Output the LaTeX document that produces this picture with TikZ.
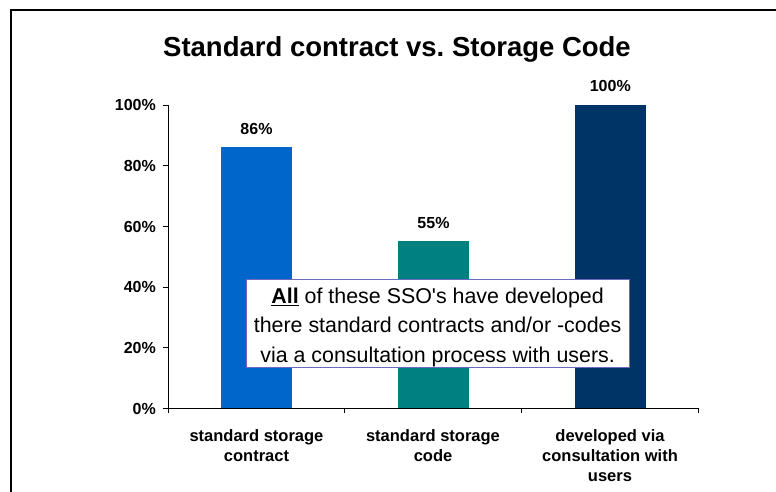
\documentclass[tikz,border=0pt]{standalone}
\usepackage{fontspec}
\setmainfont{Liberation Sans}
\newfontfamily\boxfont{Liberation Sans}
\usetikzlibrary{calc}
\definecolor{barA}{HTML}{0066CC}
\definecolor{barB}{HTML}{008080}
\definecolor{barC}{HTML}{003366}
\definecolor{boxline}{HTML}{6A6AC0}
\frenchspacing
\begin{document}
\begin{tikzpicture}[x=1pt,y=-1pt,
  bar/.style={draw=none, inner sep=0pt, minimum width=71pt, anchor=south},
  val/.style={font=\fontsize{16}{18}\selectfont\bfseries, anchor=base, inner sep=0pt},
  ylab/.style={font=\fontsize{16}{18}\selectfont\bfseries, anchor=base east, inner sep=0pt},
  cat/.style={font=\fontsize{16.5}{20}\selectfont\bfseries, align=center, anchor=north, inner sep=0pt},
  axisline/.style={line width=0.8pt, black},
  frameline/.style={line width=2.4pt, black}
]
\useasboundingbox (0,0) rectangle (776,491);
% frame
\coordinate (fb) at (11,495);
\coordinate (fc) at (11,10);
\coordinate (fr) at (780,10);
\draw[frameline] (fb) -- (fc) -- (fr);
% title
\node[font=\fontsize{27.5}{30}\selectfont\bfseries, anchor=base, inner sep=0pt] (title) at (397,56.7) {Standard contract vs. Storage Code};
% axes
\coordinate (ytop) at (168,105);
\coordinate (o) at (168,408.3);
\coordinate (xend) at (698,408.3);
\draw[axisline] (ytop) -- (o) -- (xend);
% y ticks and labels
\foreach \v/\lab in {0/0\%,20/20\%,40/40\%,60/60\%,80/80\%,100/100\%}{
  \coordinate (yt\v) at (168,{408.3-3.033*\v});
  \coordinate (ytl\v) at (162.7,{408.3-3.033*\v});
  \draw[axisline] (ytl\v) -- (yt\v);
  \node[ylab] (yl\v) at (156,{408.3-3.033*\v+5.8}) {\lab};
}
% x ticks
\foreach \i/\x in {0/168,1/344.7,2/521.3,3/698}{
  \coordinate (xa\i) at (\x,408.3);
  \coordinate (xb\i) at (\x,413.3);
  \draw[axisline] (xa\i) -- (xb\i);
}
% bars
\node[bar, fill=barA, minimum height=260.8pt] (b1) at (256.5,408.3) {};
\node[bar, fill=barB, minimum height=166.8pt] (b2) at (433.5,408.3) {};
\node[bar, fill=barC, minimum height=303.3pt] (b3) at (610.3,408.3) {};
% value labels
\node[val] (v1) at ($(b1.north)+(0,-13)$) {86\%};
\node[val] (v2) at ($(b2.north)+(0,-13)$) {55\%};
\node[val] (v3) at ($(b3.north)+(0,-13)$) {100\%};
% category labels
\node[cat] (c1) at (256.5,428.9) {standard storage\\contract};
\node[cat] (c2) at (433,428.9) {standard storage\\code};
\node[cat] (c3) at (610,428.9) {developed via\\consultation with\\users};
% text box
\node[draw=boxline, line width=0.8pt, fill=white, minimum width=383pt, minimum height=88pt, inner sep=0pt] (tb) at (437.6,323.3) {};
\node[font=\boxfont\fontsize{21.4}{29.2}\selectfont, align=center, anchor=north, inner sep=0pt] (tt) at (437.6,288) {\underline{\textbf{All}} of these SSO's have developed\\there standard contracts and/or -codes\\via a consultation process with users.};
\end{tikzpicture}
\end{document}
